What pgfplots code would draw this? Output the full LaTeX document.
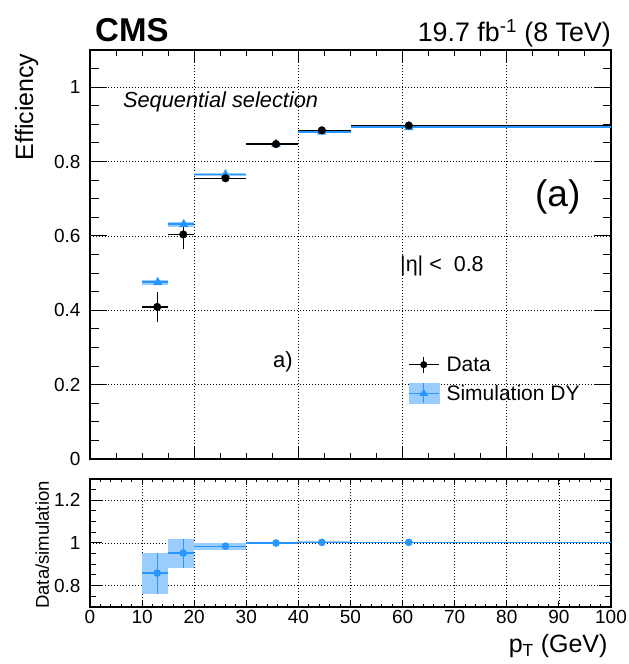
\documentclass[border=0pt]{standalone}
\usepackage{pgfplots}
\pgfplotsset{compat=1.18}
\usepackage{fontspec}
\setmainfont{Liberation Sans}
\definecolor{simblue}{RGB}{40,150,255}
\definecolor{bandblue}{RGB}{155,205,252}
\newcommand{\fs}[1]{\fontsize{#1}{#1}\selectfont}

\pgfplotsset{
  cmsstyle/.style={
    scale only axis,
    axis line style={line width=1.5pt},
    tick style={black, line width=1pt},
    tick align=inside,
    xtick pos=both, ytick pos=both,
    grid=major,
    major grid style={black, line width=0.8pt, dash pattern=on 0.8pt off 2.2pt},
    tick label style={font=\fs{19}},
    /pgf/number format/assume math mode=true,
    clip=false,
  }
}

\begin{document}
\begin{tikzpicture}
\useasboundingbox (0pt,0pt) rectangle (629pt,664pt);
\begin{axis}[cmsstyle,
  at={(90pt,205pt)}, anchor=south west,
  width=521pt, height=409pt,
  xmin=0, xmax=100, ymin=0, ymax=1.1,
  xtick={0,20,40,60,80,100}, minor x tick num=3,
  ytick={0,0.2,0.4,0.6,0.8,1},
  minor ytick={0.05,0.1,0.15,0.25,0.3,0.35,0.45,0.5,0.55,0.65,0.7,0.75,0.85,0.9,0.95,1.05},
  xticklabels={},
  xtick style={/pgfplots/major tick length=12pt, /pgfplots/minor tick length=6pt},
  ytick style={/pgfplots/major tick length=17pt, /pgfplots/minor tick length=8.5pt},
  yticklabel style={xshift=-6pt},
  ylabel={Efficiency},
  ylabel style={font=\fs{25}, at={(axis description cs:-0.1094,1)}, anchor=base east},
  legend style={draw=none, fill=none, at={(axis cs:61,0.281)}, anchor=north west,
    inner sep=0pt, font=\fs{21}, row sep=8pt,
    /tikz/every odd column/.append style={column sep=5pt}},
  legend cell align=left,
]
% simulation bands
\addplot[fill=bandblue, draw=none, forget plot] coordinates {(10,0.469) (15,0.469) (15,0.481) (10,0.481)};
\addplot[fill=bandblue, draw=none, forget plot] coordinates {(15,0.625) (20,0.625) (20,0.637) (15,0.637)};
\addplot[fill=bandblue, draw=none, forget plot] coordinates {(20,0.762) (30,0.762) (30,0.768) (20,0.768)};
\addplot[fill=bandblue, draw=none, forget plot] coordinates {(30,0.845) (40,0.845) (40,0.849) (30,0.849)};
\addplot[fill=bandblue, draw=none, forget plot] coordinates {(40,0.878) (50,0.878) (50,0.882) (40,0.882)};
\addplot[fill=bandblue, draw=none, forget plot] coordinates {(50,0.890) (100,0.890) (100,0.894) (50,0.894)};
% simulation
\addplot[forget plot, only marks, mark=triangle*, mark size=5pt,
  mark options={fill=simblue, draw=simblue},
  error bars/.cd, x dir=both, x explicit, y dir=both, y explicit, error mark=none,
  error bar style={line width=1.8pt, simblue}]
coordinates {
 (13.0,0.475) += (2.0,0.006) -= (3.0,0.006)
 (18.0,0.631) += (2.0,0.006) -= (3.0,0.006)
 (26.0,0.765) += (4.0,0.003) -= (6.0,0.003)
 (35.7,0.847) += (4.3,0.002) -= (5.7,0.002)
 (44.5,0.880) += (5.5,0.002) -= (4.5,0.002)
 (61.2,0.892) += (38.8,0.002) -= (11.2,0.002)
};
% data
\addplot[forget plot, only marks, mark=*, mark size=3.8pt,
  mark options={fill=black, draw=black},
  error bars/.cd, x dir=both, x explicit, y dir=both, y explicit, error mark=none,
  error bar style={line width=1.3pt, black}]
coordinates {
 (12.9,0.409) += (2.1,0.041) -= (2.9,0.040)
 (17.9,0.604) += (2.1,0.039) -= (2.9,0.039)
 (26.0,0.755) += (4.0,0.005) -= (6.0,0.005)
 (35.7,0.847) += (4.3,0.004) -= (5.7,0.004)
 (44.5,0.884) += (5.5,0.004) -= (4.5,0.004)
 (61.2,0.897) += (38.8,0.004) -= (11.2,0.004)
};
\addlegendimage{legend image code/.code={
  \draw[black, line width=1.2pt] (0pt,0pt) -- (30pt,0pt);
  \draw[black, line width=1.2pt] (15pt,-8pt) -- (15pt,8pt);
  \fill[black] (15pt,0pt) circle (3.3pt);
}}
\addlegendentry{Data}
\addlegendimage{legend image code/.code={
  \fill[bandblue] (0pt,-10pt) rectangle (30pt,10pt);
  \draw[simblue, line width=1.5pt] (0pt,0pt) -- (30pt,0pt);
  \draw[simblue, line width=1.2pt] (15pt,-10pt) -- (15pt,10pt);
  \fill[simblue] (15pt,4pt) -- (19pt,-2.5pt) -- (11pt,-2.5pt) -- cycle;
}}
\addlegendentry{Simulation DY}
% texts
\node[anchor=base west, inner sep=0pt, font=\fs{21.8}\itshape] at (axis cs:6.3,0.944) {Sequential selection};
\node[anchor=base west, inner sep=0pt, font=\fs{37}] at (axis cs:85.4,0.678) {(a)};
\node[anchor=base west, inner sep=0pt, font=\fs{21.5}] at (axis cs:59.5,0.503) {|η| <\ \ 0.8};
\node[anchor=base west, inner sep=0pt, font=\fs{22}] at (axis cs:35.1,0.247) {a)};
\node[anchor=base west, inner sep=0pt, font=\fs{33}\bfseries] at (rel axis cs:0.0096,1.0196) {CMS};
\node[anchor=base east, inner sep=0pt, font=\fs{26.8}] at (rel axis cs:1,1.0196) {19.7 fb\textsuperscript{-1} (8 TeV)};
\end{axis}

\begin{axis}[cmsstyle,
  at={(90pt,57pt)}, anchor=south west,
  width=521pt, height=128pt,
  xmin=0, xmax=100, ymin=0.7, ymax=1.3,
  xtick={0,10,...,100}, minor x tick num=4,
  ytick={0.8,1,1.2},
  minor ytick={0.75,0.85,0.9,0.95,1.05,1.1,1.15,1.25},
  xtick style={/pgfplots/major tick length=6pt, /pgfplots/minor tick length=3pt},
  ytick style={/pgfplots/major tick length=12pt, /pgfplots/minor tick length=6pt},
  yticklabel style={xshift=-6pt},
  xlabel={p\textsubscript{T} (GeV)},
  xlabel style={font=\fs{25}, at={(axis description cs:1,-0.359)}, anchor=base east},
  ylabel={Data/simulation},
  ylabel style={font=\fs{18.5}, at={(axis description cs:-0.0787,1.01)}, anchor=base east},
]
\addplot[fill=bandblue, draw=none] coordinates {(10,0.760) (15,0.760) (15,0.952) (10,0.952)};
\addplot[fill=bandblue, draw=none] coordinates {(15,0.885) (20,0.885) (20,1.019) (15,1.019)};
\addplot[fill=bandblue, draw=none] coordinates {(20,0.967) (30,0.967) (30,1.002) (20,1.002)};
\addplot[fill=bandblue, draw=none] coordinates {(30,0.995) (40,0.995) (40,1.006) (30,1.006)};
\addplot[fill=bandblue, draw=none] coordinates {(40,0.998) (50,0.998) (50,1.009) (40,1.009)};
\addplot[fill=bandblue, draw=none] coordinates {(50,0.999) (100,0.999) (100,1.006) (50,1.006)};
\addplot[only marks, mark=*, mark size=3.6pt,
  mark options={fill=simblue, draw=simblue},
  error bars/.cd, x dir=both, x explicit, y dir=both, y explicit, error mark=none,
  error bar style={line width=1.3pt, simblue}]
coordinates {
 (12.9,0.859) += (2.1,0.093) -= (2.9,0.099)
 (17.9,0.953) += (2.1,0.066) -= (2.9,0.068)
 (26.0,0.985) += (4.0,0.017) -= (6.0,0.018)
 (35.7,1.000) += (4.3,0.005) -= (5.7,0.005)
 (44.5,1.003) += (5.5,0.005) -= (4.5,0.005)
 (61.2,1.003) += (38.8,0.003) -= (11.2,0.003)
};
\end{axis}
\end{tikzpicture}
\end{document}
